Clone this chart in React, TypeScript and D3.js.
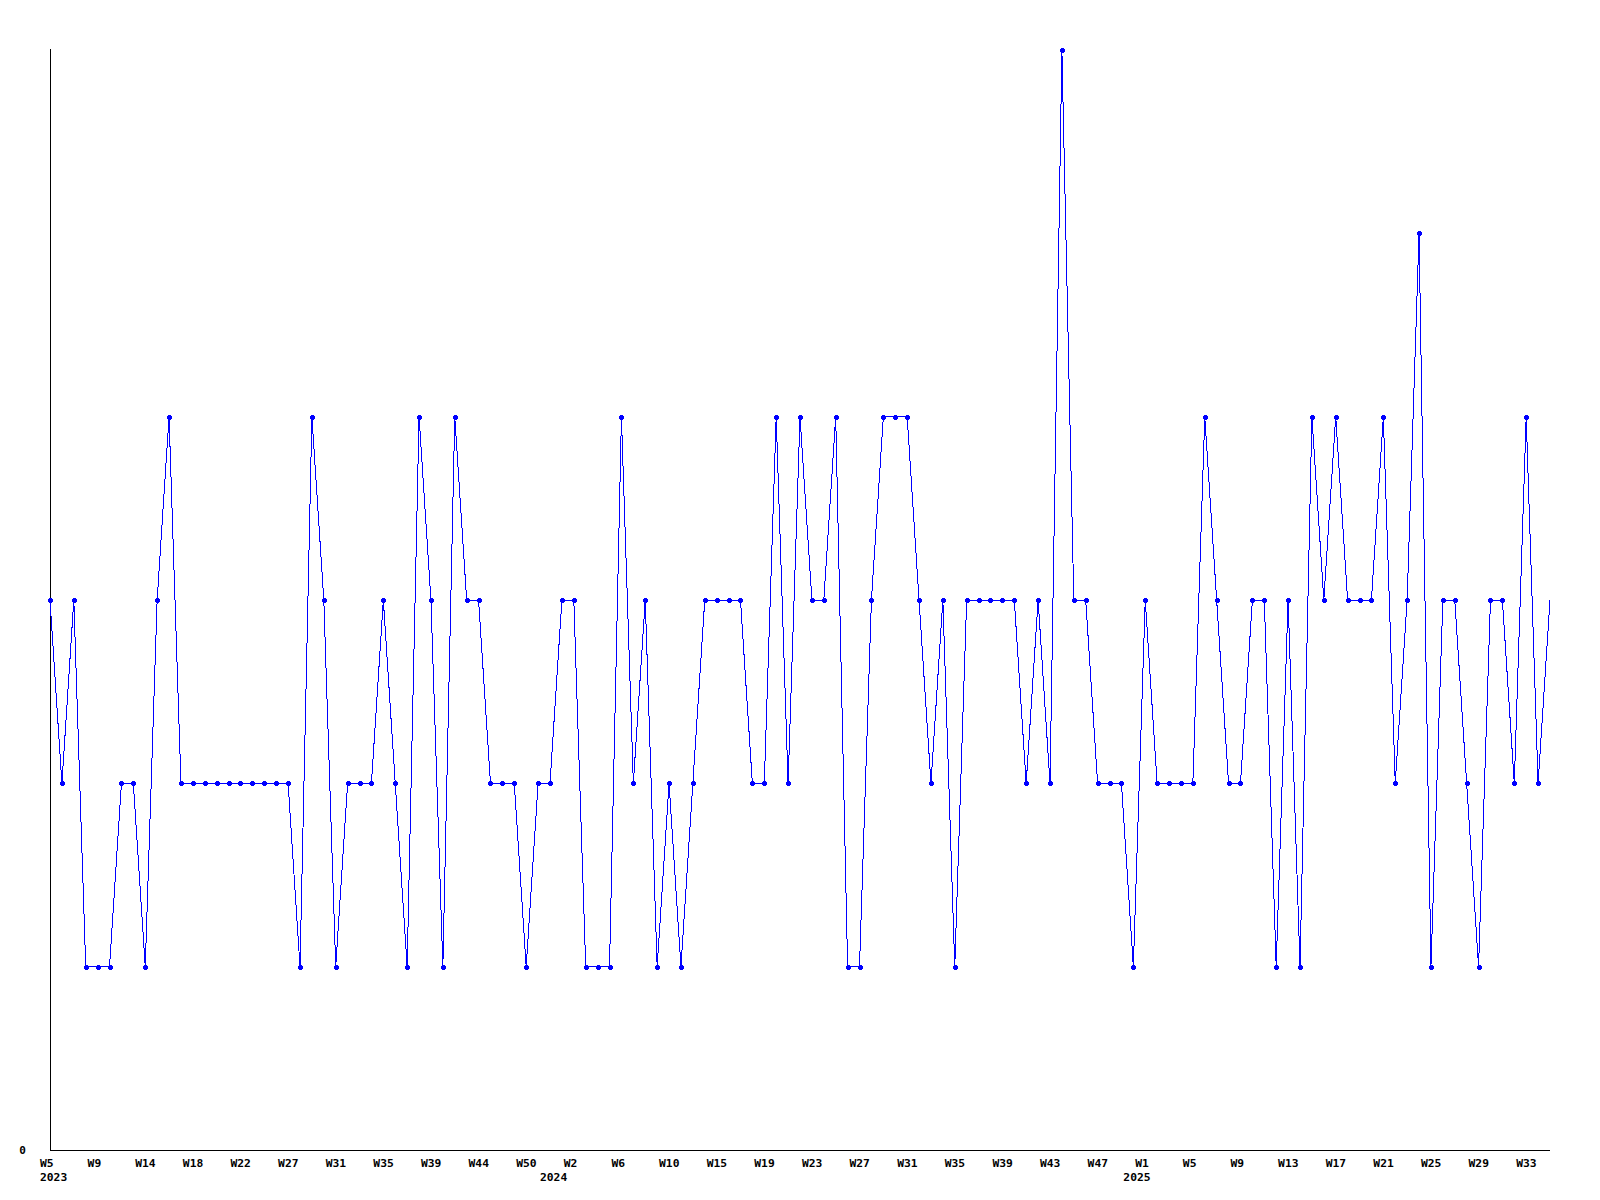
import React from "react";
import * as d3 from "d3";

const values: number[] = [
  3, 2, 3, 1, 1, 1, 2, 2, 1, 3,
  4, 2, 2, 2, 2, 2, 2, 2, 2, 2,
  2, 1, 4, 3, 1, 2, 2, 2, 3, 2,
  1, 4, 3, 1, 4, 3, 3, 2, 2, 2,
  1, 2, 2, 3, 3, 1, 1, 1, 4, 2,
  3, 1, 2, 1, 2, 3, 3, 3, 3, 2,
  2, 4, 2, 4, 3, 3, 4, 1, 1, 3,
  4, 4, 4, 3, 2, 3, 1, 3, 3, 3,
  3, 3, 2, 3, 2, 6, 3, 3, 2, 2,
  2, 1, 3, 2, 2, 2, 2, 4, 3, 2,
  2, 3, 3, 1, 3, 1, 4, 3, 4, 3,
  3, 3, 4, 2, 3, 5, 1, 3, 3, 2,
  1, 3, 3, 2, 4, 2, 3,
];

const tickLabels: string[] = [
  "W5", "W9", "W14", "W18", "W22", "W27", "W31", "W35", "W39", "W44", "W50",
  "W2", "W6", "W10", "W15", "W19", "W23", "W27", "W31", "W35", "W39", "W43", "W47",
  "W1", "W5", "W9", "W13", "W17", "W21", "W25", "W29", "W33",
];
const tickEvery = 4;

const yearLabels: string[] = ["2023", "2024", "2025"];
const yearIndex: number[] = [0, 42, 91];

const yMax = 6;
const yTickLabels: number[] = [0];

export default function App() {
  const W = 1600;
  const H = 1200;
  const left = 50;
  const right = 1550;
  const top = 50;
  const bottom = 1150;

  const x = d3.scaleLinear().domain([0, values.length - 1]).range([left, right]);
  const y = d3.scaleLinear().domain([0, yMax]).range([bottom, top]);

  const line = d3
    .line<number>()
    .x((_, i) => x(i))
    .y((d) => y(d));

  const font = "'DejaVu Sans Mono', monospace";

  return (
    <svg
      width={W}
      height={H}
      style={{ position: "absolute", left: 0, top: 0, background: "#fff" }}
    >
      <rect x={0} y={0} width={W} height={H} fill="#fff" />
      {/* axes */}
      <line x1={left + 0.5} x2={left + 0.5} y1={top - 1} y2={bottom} stroke="#000" strokeWidth={1} shapeRendering="crispEdges" />
      <line x1={left} x2={right} y1={bottom + 0.5} y2={bottom + 0.5} stroke="#000" strokeWidth={1} shapeRendering="crispEdges" />
      {yTickLabels.map((t) => (
        <text key={t} x={22.5} y={y(t) + 4} textAnchor="middle" fontFamily={font} fontWeight="bold" fontSize={11} fill="#000">
          {t}
        </text>
      ))}
      {tickLabels.map((t, k) => (
        <text key={k} x={x(k * tickEvery) - 10} y={1167} fontFamily={font} fontWeight="bold" fontSize={11.3} fill="#000">
          {t}
        </text>
      ))}
      {yearLabels.map((t, k) => (
        <text key={t} x={x(yearIndex[k]) - 10} y={1181} fontFamily={font} fontWeight="bold" fontSize={11.3} fill="#000">
          {t}
        </text>
      ))}
      {/* series */}
      <path d={line(values) || ""} fill="none" stroke="#0000ff" strokeWidth={1} shapeRendering="crispEdges" />
      {values.slice(0, values.length - 1).map((v, i) => {
        const cx = Math.round(x(i));
        const cy = Math.round(y(v));
        return (
          <g key={i} fill="#0000ff" shapeRendering="crispEdges">
            <rect x={cx - 2} y={cy - 1} width={5} height={3} />
            <rect x={cx - 1} y={cy - 2} width={3} height={5} />
          </g>
        );
      })}
    </svg>
  );
}
